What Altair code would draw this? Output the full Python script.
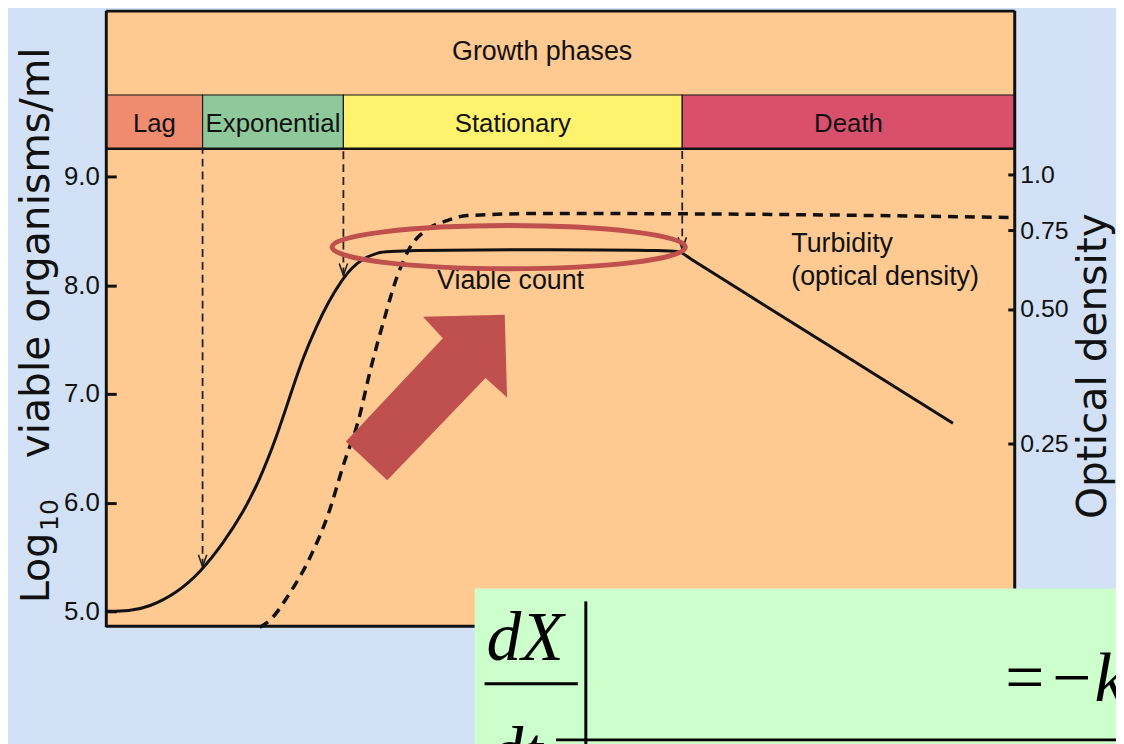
import altair as alt
import pandas as pd

# ---------------- data ----------------
phase_names = ["Lag", "Exponential", "Stationary", "Death"]
phase_start = [0.0, 10.6, 26.1, 63.4]
phase_end = [10.6, 26.1, 63.4, 100.0]
phase_colors = ["#ef8b6e", "#8fc99b", "#fff26c", "#d9506d"]

# viable count (log10 organisms/ml) vs time
viable_time = [0, 2.51, 4.70, 7.65, 10.49, 12.90, 15.08, 16.94, 18.69, 20.22, 21.64,
               23.06, 24.48, 25.79, 27.10, 28.42, 29.84, 31.48, 50.0, 62.6, 63.4,
               64.3, 65.5, 93.2]
viable_log = [5.00, 5.00, 5.04, 5.16, 5.37, 5.63, 5.91, 6.22, 6.59, 6.98, 7.33,
              7.61, 7.85, 8.03, 8.17, 8.25, 8.30, 8.32, 8.33, 8.32, 8.30,
              8.24, 8.18, 6.73]

# turbidity (optical density) vs time
turb_time = [16.9, 18.1, 20.0, 22.5, 24.4, 26.2, 27.7, 29.1, 30.6, 32.0, 33.3,
             35.3, 37.5, 39.7, 48.4, 75.7, 100.0]
turb_od = [0.097, 0.101, 0.114, 0.140, 0.173, 0.227, 0.279, 0.367, 0.475, 0.590,
           0.679, 0.753, 0.788, 0.809, 0.818, 0.813, 0.801]

left_ticks = [5.0, 6.0, 7.0, 8.0, 9.0]
right_ticks = [0.25, 0.50, 0.75, 1.0]

guide_time = [10.6, 26.1, 63.4]
guide_end = [5.41, 8.09, 8.33]

series_labels = ["Viable count", "Turbidity", "(optical density)"]
series_time = [44.5, 75.4, 75.4]
series_log = [8.04, 8.38, 8.07]

# highlight annotations (data coordinates)
ellipse_time, ellipse_log = [44.3], [8.35]
arrow_time, arrow_log = [35.3], [6.97]

# ---------------- styles ----------------
W, H = 1116, 736
BLUE = "#d2e1f5"
ORANGE = "#ffc992"
INK = "#111111"
RED = "#c0504d"
GREEN = "#ccffcc"
SANS = "Liberation Sans, Arial, sans-serif"
WIDE = "DejaVu Sans, Verdana, sans-serif"
SERIF = "Liberation Serif, Times New Roman, serif"

ELLIPSE = "M-1,0A1,0.122,0,1,1,1,0A1,0.122,0,1,1,-1,0Z"
ARROW = ("M-0.817,0.447L0.16,-0.593L-0.04,-0.81L0.783,-0.83L0.807,0.003"
         "L0.59,-0.193L-0.4,0.837Z")
ARROWHEAD = "M-0.7,-2L0,0L0.7,-2"

XS = alt.Scale(domain=[0, 100], range=[99, 1014], nice=False, zero=False)
YL = alt.Scale(domain=[5, 9], range=[605, 167], nice=False, zero=False)
YR = alt.Scale(type="log", domain=[0.25, 1.0], range=[436, 165], nice=False)


def xq(f):
    return alt.X(f, type="quantitative", scale=XS, axis=None)


def yl(f, axis=None):
    return alt.Y(f, type="quantitative", scale=YL, axis=axis)


one = pd.DataFrame({"t0": [0.0], "t1": [100.0]})
phase_df = pd.DataFrame({
    "name": phase_names, "start": phase_start, "end": phase_end,
    "mid": [(a + b) / 2 for a, b in zip(phase_start, phase_end)],
})
viable_df = pd.DataFrame({"t": viable_time, "v": viable_log})
turb_df = pd.DataFrame({"t": turb_time, "od": turb_od})
guide_df = pd.DataFrame({"t": guide_time, "end": guide_end})
lab_df = pd.DataFrame({"t": series_time, "v": series_log, "label": series_labels})

layers = []

# orange panel
layers.append(alt.Chart(one).mark_rect(color=ORANGE).encode(
    x=xq("t0"), x2="t1", y=alt.value(0), y2=alt.value(620)))

# band separator
layers.append(alt.Chart(one).mark_rule(color="#d9b070", strokeWidth=1).encode(
    x=xq("t0"), x2="t1", y=alt.value(85)))

# phase bar
layers.append(alt.Chart(phase_df).mark_rect(stroke="#1a1a1a", strokeWidth=1.2).encode(
    x=xq("start"), x2="end", y=alt.value(85), y2=alt.value(139),
    color=alt.Color("name:N", scale=alt.Scale(domain=phase_names, range=phase_colors),
                    legend=None)))
layers.append(alt.Chart(phase_df).mark_text(font=SANS, fontSize=26, color=INK,
                                            baseline="middle").encode(
    x=xq("mid"), y=alt.value(114), text="name:N"))
layers.append(alt.Chart(one).mark_rule(color=INK, strokeWidth=2.5).encode(
    x=xq("t0"), x2="t1", y=alt.value(139)))

# title of the band
layers.append(alt.Chart(pd.DataFrame({"label": ["Growth phases"]})).mark_text(
    font=SANS, fontSize=27, color=INK, baseline="middle").encode(
    x=alt.value(538), y=alt.value(42), text="label:N"))

# frame
for fld in ["t0", "t1"]:
    layers.append(alt.Chart(one).mark_rule(color=INK, strokeWidth=3).encode(
        x=xq(fld), y=alt.value(0), y2=alt.value(621)))
layers.append(alt.Chart(one).mark_rule(color=INK, strokeWidth=3).encode(
    x=xq("t0"), x2="t1", y=alt.value(620)))
layers.append(alt.Chart(one).mark_rule(color=INK, strokeWidth=3).encode(
    x=xq("t0"), x2="t1", y=alt.value(0.5)))

# phase guide lines with arrowheads
layers.append(alt.Chart(guide_df).mark_rule(color="#222222", strokeWidth=1.8,
                                            strokeDash=[8, 5]).encode(
    x=xq("t"), y=yl("end"), y2=alt.value(139)))
layers.append(alt.Chart(guide_df).mark_point(shape=ARROWHEAD, size=144, filled=False,
                                             color="#222222", strokeWidth=1.6,
                                             opacity=1).encode(
    x=xq("t"), y=yl("end")))

# viable count curve (left axis)
left_axis = alt.Axis(orient="left", offset=-109, values=left_ticks, format=".1f",
                     domain=False, grid=False, tickSize=10, tickWidth=3,
                     tickColor=INK, labelFont="Liberation Sans", labelFontSize=26,
                     labelColor=INK, labelPadding=7, title=None, zindex=1)
layers.append(alt.Chart(viable_df).mark_line(color=INK, strokeWidth=3,
                                             interpolate="basis").encode(
    x=xq("t"), y=yl("v", axis=left_axis)))

# turbidity curve (right axis, log scale)
right_axis = alt.Axis(orient="right", offset=-109, values=right_ticks,
                      labelExpr="datum.value == 1 ? '1.0' : format(datum.value, '.2f')",
                      domain=False, grid=False, tickSize=7, tickWidth=3,
                      tickColor=INK, labelFont="Liberation Sans", labelFontSize=25,
                      labelColor=INK, labelPadding=5, title=None, zindex=1)
layers.append(alt.Chart(turb_df).mark_line(color=INK, strokeWidth=3.5,
                                           strokeDash=[10, 7],
                                           interpolate="monotone").encode(
    x=xq("t"), y=alt.Y("od:Q", scale=YR, axis=right_axis)))

# series labels
layers.append(alt.Chart(lab_df.iloc[[0]]).mark_text(font=SANS, fontSize=27, color=INK,
                                                  align="center").encode(
    x=xq("t"), y=yl("v"), text="label:N"))
layers.append(alt.Chart(lab_df.iloc[1:]).mark_text(font=SANS, fontSize=27, color=INK,
                                                 align="left").encode(
    x=xq("t"), y=yl("v"), text="label:N"))

# highlight ellipse and arrow
layers.append(alt.Chart(pd.DataFrame({"t": ellipse_time, "v": ellipse_log})).mark_point(
    shape=ELLIPSE, size=126736, filled=False, color=RED, strokeWidth=5, opacity=1).encode(
    x=xq("t"), y=yl("v")))
layers.append(alt.Chart(pd.DataFrame({"t": arrow_time, "v": arrow_log})).mark_point(
    shape=ARROW, size=40000, filled=True, color=RED, strokeWidth=0, opacity=1).encode(
    x=xq("t"), y=yl("v")))

# axis titles
layers.append(alt.Chart(pd.DataFrame({"s": ["Log"]})).mark_text(
    font=WIDE, fontSize=40, color=INK, angle=270, align="left",
    baseline="alphabetic").encode(x=alt.value(41), y=alt.value(597), text="s:N"))
layers.append(alt.Chart(pd.DataFrame({"s": ["10"]})).mark_text(
    font=WIDE, fontSize=25, color=INK, angle=270, align="left",
    baseline="alphabetic").encode(x=alt.value(50), y=alt.value(524), text="s:N"))
layers.append(alt.Chart(pd.DataFrame({"s": ["viable organisms/ml"]})).mark_text(
    font=WIDE, fontSize=41, color=INK, angle=270, align="right",
    baseline="alphabetic").encode(x=alt.value(41), y=alt.value(37), text="s:N"))
layers.append(alt.Chart(pd.DataFrame({"s": ["Optical density"]})).mark_text(
    font=WIDE, fontSize=41, color=INK, angle=270, align="center",
    baseline="alphabetic").encode(x=alt.value(1106), y=alt.value(358), text="s:N"))

# equation box
layers.append(alt.Chart(one).mark_rect(color=GREEN).encode(
    x=alt.value(470), x2=alt.value(1125), y=alt.value(582), y2=alt.value(745)))
layers.append(alt.Chart(pd.DataFrame({"s": ["dX"]})).mark_text(
    font=SERIF, fontStyle="italic", fontSize=70, color="#000000", align="left",
    baseline="alphabetic").encode(x=alt.value(482), y=alt.value(654), text="s:N"))
layers.append(alt.Chart(pd.DataFrame({"s": ["dt"]})).mark_text(
    font=SERIF, fontStyle="italic", fontSize=70, color="#000000", align="left",
    baseline="alphabetic").encode(x=alt.value(484), y=alt.value(770), text="s:N"))
layers.append(alt.Chart(pd.DataFrame({"s": ["=\u2212k"]})).mark_text(
    font=SERIF, fontStyle="italic", fontSize=70, color="#000000", align="left",
    baseline="alphabetic").encode(x=alt.value(1000), y=alt.value(695), text="s:N"))
layers.append(alt.Chart(one).mark_rule(color="#000000", strokeWidth=3).encode(
    x=alt.value(480), x2=alt.value(574), y=alt.value(678)))
layers.append(alt.Chart(one).mark_rule(color="#000000", strokeWidth=3).encode(
    x=alt.value(582), y=alt.value(595), y2=alt.value(745)))
layers.append(alt.Chart(one).mark_rule(color="#000000", strokeWidth=3).encode(
    x=alt.value(552), x2=alt.value(1125), y=alt.value(734.5)))

chart = alt.layer(*layers).resolve_scale(y="independent").properties(
    width=W, height=H, autosize=alt.AutoSizeParams(type="none"), padding=0,
    background=BLUE,
).configure_view(stroke=None)

chart.save("out.html", embed_options={"renderer": "svg", "actions": False})
